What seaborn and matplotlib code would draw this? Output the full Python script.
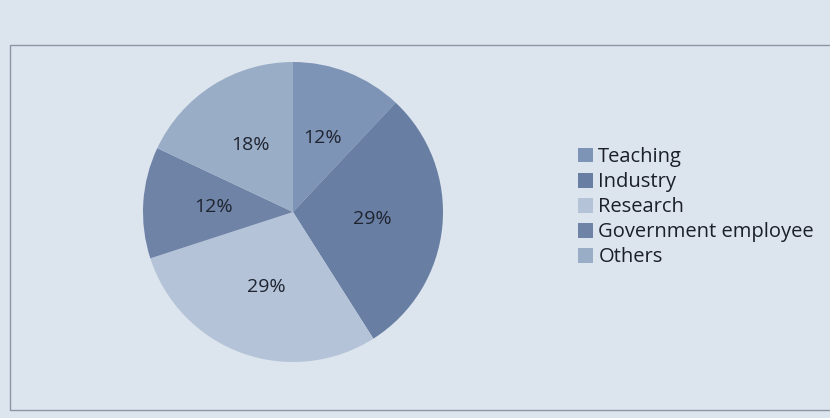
import matplotlib
matplotlib.use('Agg')
import matplotlib.pyplot as plt
import matplotlib.patches as mpatches
import seaborn as sns

# Data
categories = ['Teaching', 'Industry', 'Research', 'Government employee', 'Others']
shares = [12, 29, 29, 12, 18]
colors = ['#7e94b6', '#687ea3', '#b4c3d7', '#6e83a6', '#9aadc7']

sns.set_theme(style='white')
plt.rcParams['font.family'] = ['Open Sans', 'DejaVu Sans']

bg = '#dce5ee'
fig = plt.figure(figsize=(8.3, 4.18), dpi=100)
fig.patch.set_facecolor(bg)

# chart frame
fig.add_artist(mpatches.Rectangle((10 / 830, 8 / 418), 830, (410 - 45) / 418,
                                  transform=fig.transFigure, fill=False,
                                  edgecolor='#8c96a3', linewidth=1.0))

ax = fig.add_axes([143 / 830, 56 / 418, 300 / 830, 300 / 418])
ax.set_facecolor(bg)
wedges, texts, autotexts = ax.pie(
    shares, colors=colors, startangle=90, counterclock=False,
    autopct='%1.0f%%', pctdistance=0.53, radius=1.0,
    wedgeprops=dict(linewidth=0), textprops=dict(fontsize=14, color='#1f2430'))
ax.set_xlim(-1, 1)
ax.set_ylim(-1, 1)
ax.set_aspect('equal')
ax.axis('off')

handles = [mpatches.Patch(facecolor=c, edgecolor='none') for c in colors]
fig.legend(handles, categories, loc='upper left',
           bbox_to_anchor=(560 / 830, 1 - 129 / 418), frameon=False,
           fontsize=14.5, handlelength=0.75, handleheight=0.75, handletextpad=0.25,
           labelspacing=0.25, labelcolor='#1a1f2a')

fig.savefig('out.png', dpi=100, facecolor=bg)
